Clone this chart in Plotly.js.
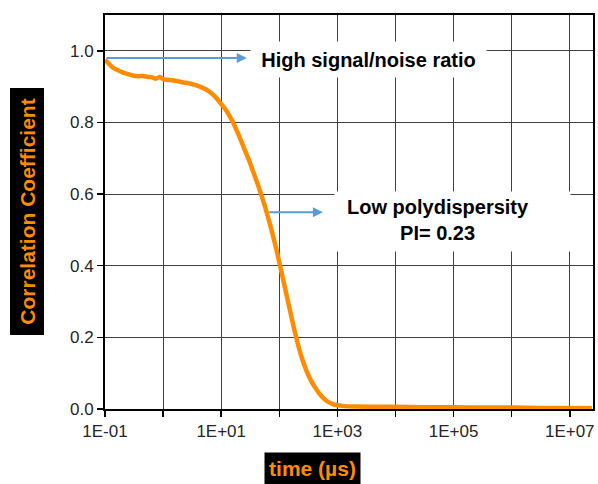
<!DOCTYPE html>
<html>
<head>
<meta charset="utf-8">
<script src="https://cdn.plot.ly/plotly-3.0.1.min.js"></script>
<style>html,body{margin:0;padding:0;background:#fff;}#chart{width:598px;height:484px;}</style>
</head>
<body>
<div id="chart"></div>
<script>
// Data
var timeUs = [0.1, 0.12, 0.14, 0.17, 0.2, 0.25, 0.3, 0.37, 0.45, 0.55, 0.65, 0.75, 0.88, 1.0, 1.15, 1.4, 1.7, 2.2, 3, 4.3, 6, 8.3, 9.5, 12.3, 16, 20, 23.8, 30, 35.3, 42, 49, 58, 68, 74, 83, 89, 100, 120, 145, 172, 190, 210, 250, 292, 350, 434, 530, 645, 800, 955, 1300, 2000, 5000, 1e4, 3e4, 1e5, 3e5, 1e6, 3e6, 1e7, 2.4e7];
var corr = [0.975, 0.962, 0.952, 0.945, 0.94, 0.935, 0.931, 0.929, 0.93, 0.927, 0.926, 0.922, 0.927, 0.921, 0.919, 0.918, 0.916, 0.912, 0.908, 0.900, 0.888, 0.868, 0.856, 0.833, 0.800, 0.765, 0.735, 0.695, 0.664, 0.630, 0.598, 0.560, 0.520, 0.498, 0.466, 0.446, 0.410, 0.352, 0.292, 0.238, 0.208, 0.180, 0.138, 0.108, 0.080, 0.055, 0.036, 0.023, 0.015, 0.011, 0.008, 0.007, 0.006, 0.006, 0.005, 0.005, 0.004, 0.004, 0.003, 0.003, 0.002];
var xTickVals = [0.1, 1, 10, 100, 1e3, 1e4, 1e5, 1e6, 1e7];
var xTickText = ['1E-01', '', '1E+01', '', '1E+03', '', '1E+05', '', '1E+07'];
var yTitle = 'Correlation Coefficient';
var xTitle = 'time (µs)';
var note1 = 'High signal/noise ratio';
var note2 = 'Low polydispersity<br>PI= 0.23';

var FONT = 'Arial, "Liberation Sans", sans-serif';
var ORANGE = '#ff8c00';
var BLUE = '#5b9bd5';

var trace = {
  x: timeUs, y: corr, type: 'scatter', mode: 'lines',
  line: {color: ORANGE, width: 4.5, shape: 'spline', smoothing: 0.5},
  hoverinfo: 'skip'
};

var layout = {
  width: 598, height: 484,
  margin: {l: 105, r: 5, t: 15, b: 75},
  paper_bgcolor: '#fff', plot_bgcolor: '#fff',
  showlegend: false,
  font: {family: FONT, size: 17, color: '#262626'},
  xaxis: {
    type: 'log', range: [-1, 7.4],
    tickmode: 'array', tickvals: xTickVals, ticktext: xTickText,
    ticks: 'outside', ticklen: 6, tickwidth: 1.5, tickcolor: '#000',
    showline: true, linecolor: '#000', linewidth: 2, mirror: true,
    showgrid: true, gridcolor: '#404040', gridwidth: 1,
    zeroline: false, tickfont: {family: FONT, size: 17, color: '#262626'}
  },
  yaxis: {
    range: [0, 1.1], dtick: 0.2, tick0: 0, tickformat: '.1f',
    ticks: 'outside', ticklen: 6, tickwidth: 1.5, tickcolor: '#000',
    showline: true, linecolor: '#000', linewidth: 2, mirror: true,
    showgrid: true, gridcolor: '#404040', gridwidth: 1,
    zeroline: false, tickfont: {family: FONT, size: 17, color: '#262626'}
  },
  annotations: [
    // arrows
    {xref: 'x', yref: 'y', axref: 'x', ayref: 'y', x: 1.44, y: 0.98, ax: -1, ay: 0.98,
     text: '', showarrow: true, arrowhead: 2, arrowsize: 1, arrowwidth: 2, arrowcolor: BLUE, standoff: 0, startstandoff: 0},
    {xref: 'x', yref: 'y', axref: 'x', ayref: 'y', x: 2.75, y: 0.549, ax: 1.80, ay: 0.549,
     text: '', showarrow: true, arrowhead: 2, arrowsize: 1, arrowwidth: 2, arrowcolor: BLUE, standoff: 0, startstandoff: 0},
    // note boxes
    {xref: 'paper', yref: 'paper', x: (368.5 - 105) / 488, y: (409 - 59.5) / 394, xanchor: 'center', yanchor: 'middle',
     text: '<b>' + note1 + '</b>', showarrow: false, bgcolor: '#fff', borderpad: 0, width: 235, height: 35,
     font: {family: FONT, size: 20, color: '#000'}},
    {xref: 'paper', yref: 'paper', x: (452.5 - 105) / 488, y: (409 - 221.5) / 394, xanchor: 'center', yanchor: 'middle',
     text: ' ', showarrow: false, bgcolor: '#fff', borderpad: 0, width: 235, height: 59,
     font: {family: FONT, size: 20, color: '#000'}},
    {xref: 'paper', yref: 'paper', x: (438 - 105) / 488, y: (409 - 220) / 394, xanchor: 'center', yanchor: 'middle',
     text: '<b>' + note2 + '</b>', showarrow: false, borderpad: 0,
     font: {family: FONT, size: 20, color: '#000'}},
    // axis titles on black boxes
    {xref: 'paper', yref: 'paper', x: (26.5 - 105) / 488, y: (409 - 212) / 394, xanchor: 'center', yanchor: 'middle',
     text: '<b>' + yTitle + '</b>', textangle: -90, showarrow: false, bgcolor: '#000', borderpad: 0,
     width: 246, height: 33, font: {family: FONT, size: 21, color: ORANGE}},
    {xref: 'paper', yref: 'paper', x: (312.5 - 105) / 488, y: (409 - 468.5) / 394, xanchor: 'center', yanchor: 'middle',
     text: '<b>' + xTitle + '</b>', showarrow: false, bgcolor: '#000', borderpad: 0,
     width: 95, height: 31, font: {family: FONT, size: 21, color: ORANGE}}
  ]
};

Plotly.newPlot('chart', [trace], layout, {displayModeBar: false, staticPlot: true});
</script>
</body>
</html>
